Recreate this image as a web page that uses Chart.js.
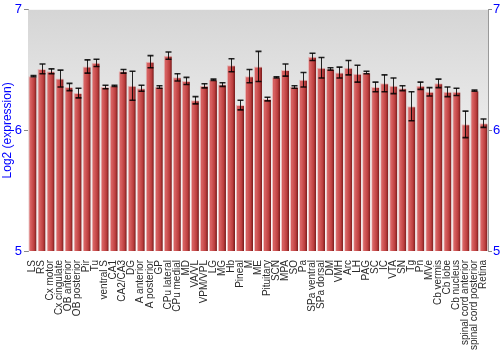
<!DOCTYPE html>
<html>
<head>
<meta charset="utf-8">
<script src="https://cdn.jsdelivr.net/npm/chart.js@4/dist/chart.umd.min.js"></script>
<style>
  html, body { margin: 0; padding: 0; background: #fff; }
  #chart { display: block; }
</style>
</head>
<body>
<canvas id="chart" width="500" height="350"></canvas>
<script>
// Brain regions
const regions = [
  "LS", "RS", "Cx motor", "Cx cingulate", "OB anterior", "OB posterior", "Pir", "Tu",
  "ventral S", "CA1", "CA2/CA3", "DG", "A anterior", "A posterior", "GP", "CPu lateral",
  "CPu medial", "MD", "VA/VL", "VPM/VPL", "LG", "MG", "Hb", "Pineal", "M", "ME",
  "Pituitary", "SCN", "MPA", "SO", "Pa", "SPa ventral", "SPa dorsal", "DM", "VMH", "Arc",
  "LH", "PAG", "SC", "IC", "VTA", "SN", "Tg", "Pn", "MVe", "Cb vermis", "Cb lobe",
  "Cb nucleus", "spinal cord anterior", "spinal cord posterior", "Retina",
];

// Mean log2 expression per region
const expression = [
  6.45, 6.51, 6.49, 6.43, 6.36, 6.31, 6.53, 6.56,
  6.36, 6.37, 6.49, 6.37, 6.35, 6.57, 6.36, 6.62,
  6.44, 6.41, 6.25, 6.37, 6.42, 6.38, 6.54, 6.21, 6.45, 6.53,
  6.26, 6.44, 6.50, 6.36, 6.42, 6.61, 6.52, 6.51, 6.48, 6.52,
  6.47, 6.48, 6.36, 6.39, 6.37, 6.35, 6.20, 6.37, 6.32, 6.39, 6.32,
  6.32, 6.05, 6.33, 6.06,
];

// Error (half length of the error bar)
const errors = [
  0.005, 0.04, 0.02, 0.07, 0.03, 0.04, 0.055, 0.03,
  0.015, 0.005, 0.015, 0.12, 0.025, 0.05, 0.01, 0.03,
  0.03, 0.03, 0.03, 0.017, 0.005, 0.015, 0.054, 0.04, 0.055, 0.125,
  0.015, 0.005, 0.05, 0.01, 0.06, 0.03, 0.085, 0.01, 0.045, 0.06,
  0.07, 0.01, 0.04, 0.07, 0.065, 0.02, 0.12, 0.03, 0.035, 0.035, 0.04,
  0.03, 0.11, 0.005, 0.035,
];

const yTicks = [5, 6, 7];
const blue = "#0000ff";
const font = "'Liberation Sans', Arial, sans-serif";

// Gray fade behind the bars
const backdrop = {
  id: "backdrop",
  beforeDatasetsDraw(chart) {
    const { ctx, chartArea: a } = chart;
    const g = ctx.createLinearGradient(0, a.top, 0, a.bottom);
    g.addColorStop(0, "#d5d5d5");
    g.addColorStop(0.55, "#eeeeee");
    g.addColorStop(1, "#fdfdfd");
    ctx.save();
    ctx.fillStyle = g;
    ctx.fillRect(a.left, a.top, a.right - a.left, a.bottom - a.top);
    ctx.restore();
  },
};

// Error bars drawn through the y scale
const errorBars = {
  id: "errorBars",
  afterDatasetsDraw(chart) {
    const { ctx } = chart;
    const y = chart.scales.y;
    const meta = chart.getDatasetMeta(0);
    ctx.save();
    meta.data.forEach((bar, i) => {
      const hi = y.getPixelForValue(expression[i] + errors[i]);
      const lo = y.getPixelForValue(expression[i] - errors[i]);
      const x = Math.round(bar.x) + 0.5;
      ctx.strokeStyle = "rgba(0,0,0,0.85)";
      ctx.lineWidth = 1;
      ctx.beginPath();
      ctx.moveTo(x, hi);
      ctx.lineTo(x, lo);
      ctx.stroke();
      ctx.lineWidth = 1.6;
      ctx.beginPath();
      ctx.moveTo(x - 3, hi);
      ctx.lineTo(x + 3, hi);
      ctx.moveTo(x - 3, lo);
      ctx.lineTo(x + 3, lo);
      ctx.stroke();
    });
    ctx.restore();
  },
};

// Cylinder-like shading across each bar
const barShade = (c) => {
  const ch = c.chart;
  const xs = ch.scales && ch.scales.x;
  if (c.type !== "data" || !xs || !ch.chartArea) return "#c04040";
  const cx = xs.getPixelForValue(c.dataIndex);
  const w = (xs.width / regions.length) * 0.9;
  const g = ch.ctx.createLinearGradient(cx - w / 2, 0, cx + w / 2, 0);
  g.addColorStop(0, "#cc5050");
  g.addColorStop(0.25, "#d86262");
  g.addColorStop(0.7, "#bc3e3e");
  g.addColorStop(1, "#741a1a");
  return g;
};

new Chart(document.getElementById("chart"), {
  type: "bar",
  plugins: [backdrop, errorBars],
  data: {
    labels: regions,
    datasets: [
      {
        data: expression,
        backgroundColor: barShade,
        borderColor: "rgba(235,150,150,0.55)",
        borderWidth: { top: 1, left: 1, right: 0, bottom: 0 },
        borderSkipped: false,
        barPercentage: 0.9,
        categoryPercentage: 1,
      },
    ],
  },
  options: {
    responsive: false,
    animation: false,
    layout: { padding: 0 },
    plugins: {
      legend: { display: false },
      tooltip: { enabled: false },
    },
    scales: {
      x: {
        grid: { display: false },
        border: { display: false },
        ticks: {
          autoSkip: false,
          minRotation: 90,
          maxRotation: 90,
          padding: 1,
          color: "#2a2a2a",
          font: { family: font, size: 10 },
        },
        afterFit: (s) => { s.height = 99; },
      },
      y: {
        min: 5,
        max: 7,
        z: 1,
        afterBuildTicks: (s) => { s.ticks = yTicks.map((v) => ({ value: v })); },
        ticks: {
          color: blue,
          padding: 2,
          font: { family: font, size: 13 },
        },
        grid: {
          color: (c) => (c.tick && c.tick.value === 6 ? "rgba(255,255,255,0.45)" : "transparent"),
          tickColor: "#888",
          tickLength: 4,
        },
        border: { color: "#999" },
        title: {
          display: true,
          text: "Log2 (expression)",
          color: blue,
          padding: 0,
          font: { family: font, size: 12 },
        },
        afterFit: (s) => { s.width = 28; },
      },
      y2: {
        position: "right",
        min: 5,
        max: 7,
        afterBuildTicks: (s) => { s.ticks = yTicks.map((v) => ({ value: v })); },
        ticks: {
          color: blue,
          padding: 1,
          font: { family: font, size: 13 },
        },
        grid: { drawOnChartArea: false, tickColor: "#888", tickLength: 4 },
        border: { color: "#999" },
        afterFit: (s) => { s.width = 12; },
      },
    },
  },
});
</script>
</body>
</html>
